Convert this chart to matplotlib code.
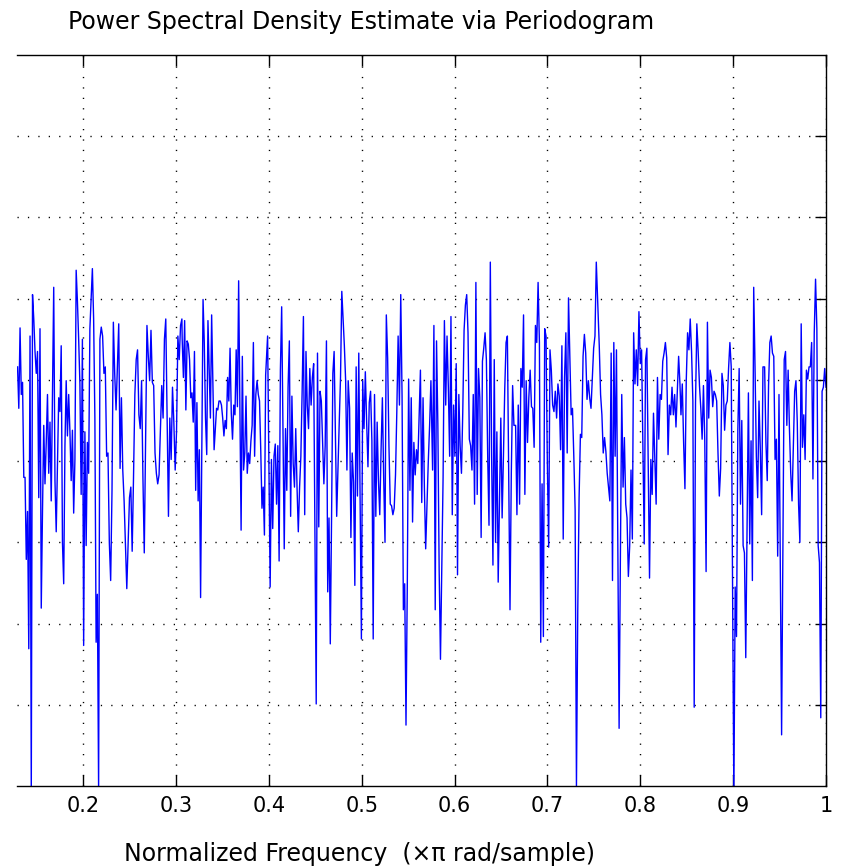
import numpy as np
import matplotlib
matplotlib.use("Agg")
import matplotlib.pyplot as plt

# periodogram estimate (dB/rad/sample) over the visible band, split in ten pieces
band_edges = [(0.1293, 0.2166), (0.2180, 0.3063), (0.3066, 0.3965), (0.3986, 0.4854),
              (0.4869, 0.5745), (0.5763, 0.6639), (0.6657, 0.7526), (0.7558, 0.8427),
              (0.8438, 0.9321), (0.9339, 1.0)]

psd_1 = [-38.4, -43.5, -33.6, -41.8, -40.3, -52.0, -52.0, -62.1, -56.2, -73.1, -34.6, -91.4, -29.5,
         -32.5, -36.5, -39.2, -36.5, -54.5, -33.7, -68.1, -56.2, -45.6, -52.8, -47.7, -41.8, -51.5,
         -45.2, -54.9, -42.2, -28.6, -52.4, -58.7, -50.7, -42.2, -43.9, -35.8, -60.0, -65.1, -48.1,
         -40.1, -46.9, -41.8, -46.4, -52.4, -46.2, -56.4, -49.8, -26.5, -30.3, -35.0, -40.5, -54.1,
         -35.0, -72.7, -46.4, -60.4, -47.7, -51.5, -33.7, -29.9, -26.3, -32.5, -44.7, -72.3, -66.4,
         -90.5]
psd_2 = [-35.0, -33.5, -34.6, -39.2, -38.4, -49.4, -49.0, -60.0, -64.7, -53.6, -32.9, -39.2, -43.7,
         -38.4, -33.1, -50.9, -42.2, -51.1, -54.9, -60.4, -65.7, -60.0, -54.5, -53.2, -61.1, -52.0,
         -41.8, -37.5, -36.3, -44.3, -46.0, -40.1, -52.0, -61.3, -47.7, -33.3, -37.1, -40.1, -33.9,
         -40.3, -40.7, -49.0, -51.5, -52.8, -51.7, -46.2, -40.7, -44.7, -35.0, -32.5, -44.7, -56.8,
         -44.7, -49.8, -40.9, -45.2, -51.1, -46.4, -34.6, -37.5, -33.3, -32.5]
psd_3 = [-35.0, -39.7, -32.7, -43.7, -35.2, -35.6, -37.5, -42.2, -41.6, -45.2, -36.5, -53.6, -42.8,
         -54.9, -48.6, -66.8, -48.6, -30.1, -35.4, -44.7, -49.2, -32.7, -38.6, -44.7, -32.0, -40.3,
         -48.6, -46.0, -43.5, -43.7, -42.6, -42.6, -43.1, -44.7, -46.9, -45.0, -46.0, -39.7, -42.6,
         -36.1, -44.1, -47.3, -43.1, -44.3, -36.3, -43.3, -27.8, -43.5, -58.5, -37.1, -51.1, -49.0,
         -42.0, -51.5, -49.0, -50.3, -47.5, -45.6, -35.4, -49.4, -41.8, -40.1, -41.8, -42.6, -48.6,
         -55.8, -53.2, -59.1, -39.4]
psd_4 = [-34.6, -50.3, -65.5, -49.8, -58.3, -49.4, -47.9, -55.3, -48.1, -62.3, -38.8, -31.0, -46.0,
         -60.8, -46.0, -53.6, -40.9, -35.2, -56.8, -42.0, -50.3, -53.2, -46.0, -53.2, -58.7, -53.2,
         -49.4, -41.4, -32.2, -56.6, -36.5, -43.1, -46.0, -38.6, -43.1, -39.7, -38.0, -59.1, -79.9,
         -36.7, -58.1, -41.4, -42.6, -47.7, -52.8, -48.1, -35.2, -66.1, -57.0, -72.5, -57.0, -39.2,
         -36.5, -47.1, -56.8, -50.9, -45.2, -39.7, -29.1, -32.5, -35.8, -40.1, -51.1, -40.1]
psd_5 = [-43.5, -59.4, -49.0, -52.6, -65.3, -38.4, -54.3, -36.7, -54.5, -71.9, -40.1, -46.0, -39.0,
         -45.2, -50.7, -42.8, -41.4, -47.5, -71.9, -41.8, -56.8, -45.2, -52.4, -56.6, -48.6, -42.2,
         -52.2, -60.0, -32.0, -37.3, -48.1, -55.3, -55.5, -56.6, -55.8, -51.7, -43.9, -34.6, -43.1,
         -29.5, -42.0, -68.3, -65.1, -82.5, -65.1, -39.9, -53.6, -42.2, -57.5, -47.7, -51.7, -48.6,
         -50.3, -44.7, -38.8, -55.1, -42.2, -53.2, -60.8, -55.3, -50.0, -45.6, -40.1]
psd_6 = [-51.1, -33.3, -68.3, -35.2, -45.4, -63.4, -74.4, -63.2, -52.0, -32.7, -43.1, -34.6, -40.9,
         -49.4, -32.2, -56.6, -43.1, -49.4, -38.0, -64.0, -41.8, -48.1, -51.5, -43.9, -33.9, -30.8,
         -29.5, -34.2, -47.3, -48.1, -51.1, -41.8, -55.3, -28.0, -54.1, -38.6, -42.2, -59.4, -37.7,
         -36.1, -34.2, -37.5, -49.4, -57.9, -25.5, -49.4, -62.8, -37.5, -60.0, -46.4, -64.9, -54.9,
         -44.7, -57.0, -49.4, -41.1, -35.4, -34.6, -51.5, -68.3, -51.5, -40.7, -45.6]
psd_7 = [-45.6, -56.6, -43.1, -55.3, -38.6, -40.9, -32.0, -54.1, -40.1, -47.7, -42.2, -38.8, -43.3,
         -43.5, -48.3, -33.3, -35.4, -28.0, -35.4, -72.3, -52.8, -71.6, -33.7, -34.6, -50.3, -60.6,
         -36.3, -38.8, -43.1, -43.9, -41.4, -44.7, -40.5, -42.0, -48.6, -35.8, -59.6, -39.7, -34.2,
         -49.0, -29.9, -37.3, -44.3, -43.5, -49.4, -56.0, -90.1, -68.3, -54.5, -46.7, -47.1, -37.1,
         -34.4, -36.7, -42.4, -40.1, -42.2, -43.5, -39.7, -36.1, -34.6, -25.5]
psd_8 = [-35.8, -41.8, -44.3, -49.0, -47.1, -48.8, -51.5, -53.2, -54.9, -36.7, -64.7, -35.4, -49.4,
         -36.3, -60.0, -82.9, -61.3, -41.8, -53.2, -47.1, -55.3, -57.0, -64.2, -60.4, -51.1, -59.6,
         -34.2, -40.5, -36.3, -40.7, -31.6, -38.0, -36.3, -48.3, -60.2, -37.5, -36.1, -50.5, -64.4,
         -49.8, -54.1, -44.1, -49.8, -55.3, -39.7, -47.3, -41.8, -42.4, -37.7, -36.7, -35.4, -37.3,
         -49.2, -43.1, -44.3, -40.9, -44.3, -41.8, -45.8, -41.4, -37.1, -40.5]
psd_9 = [-44.3, -40.5, -47.7, -53.4, -40.1, -34.2, -36.3, -32.5, -36.5, -42.6, -80.3, -42.8, -33.1,
         -36.5, -40.7, -43.5, -47.3, -40.7, -47.5, -63.6, -32.9, -44.7, -38.8, -39.7, -43.3, -41.4,
         -41.8, -42.6, -49.0, -54.3, -50.9, -39.2, -40.7, -46.2, -43.1, -42.6, -38.6, -35.4, -38.4,
         -65.5, -91.4, -65.5, -71.6, -46.2, -38.6, -55.3, -45.0, -60.4, -61.3, -74.2, -57.9, -41.6,
         -60.2, -47.5, -64.7, -28.6, -38.4, -49.4, -54.5, -42.6, -48.6, -56.6, -38.4]
psd_10 = [-38.4, -47.7, -52.4, -40.7, -35.4, -34.6, -36.7, -37.1, -49.8, -47.3, -61.7, -41.8, -62.5,
          -83.7, -61.3, -37.5, -36.5, -45.6, -38.8, -46.0, -51.5, -54.9, -48.1, -41.4, -40.1, -45.2,
          -55.3, -60.0, -33.1, -48.3, -44.3, -49.8, -38.8, -39.9, -38.4, -38.4, -35.4, -52.2, -34.2,
          -27.6, -33.7, -60.4, -62.5, -81.6, -41.4, -40.9, -38.6, -40.9]

bands = [psd_1, psd_2, psd_3, psd_4, psd_5, psd_6, psd_7, psd_8, psd_9, psd_10]
freq = np.concatenate([np.linspace(a, b, len(p)) for (a, b), p in zip(band_edges, bands)])
psd_db = np.concatenate(bands)

xticks = [0.2, 0.3, 0.4, 0.5, 0.6, 0.7, 0.8, 0.9, 1.0]
xticklabels = ['0.2', '0.3', '0.4', '0.5', '0.6', '0.7', '0.8', '0.9', '1']
yticks = [-80, -70, -60, -50, -40, -30, -20, -10]

plt.rcParams['font.family'] = ['DejaVu Sans']
plt.rcParams['lines.scale_dashes'] = False

fig = plt.figure(figsize=(8.42, 8.68), dpi=100)
W, H = 842.0, 868.0
ax = fig.add_axes([17 / W, 1 - 786 / H, (826 - 17) / W, (786 - 55) / H])

ax.plot(freq, psd_db, color='#0000ff', lw=1.0)

ax.set_xlim(0.1287, 1.0)
ax.set_ylim(-90, 0)
ax.set_xticks(xticks)
ax.set_xticklabels(xticklabels, fontsize=15)
ax.set_yticks(yticks)
ax.set_yticklabels([])

ax.tick_params(axis='both', direction='in', length=8, width=1.0, color='black',
               top=True, right=True, left=False, labelleft=False, pad=7)
ax.grid(True, color='black', lw=1.0, linestyle=(0, (0.9, 6.6)))

ax.spines['left'].set_visible(False)
for s in ['top', 'bottom', 'right']:
    ax.spines[s].set_linewidth(1.0)

ax.set_title('Power Spectral Density Estimate via Periodogram', fontsize=17,
             x=(361 - 17) / 809, pad=19)
ax.set_xlabel('Normalized Frequency  (\u00d7\u03c0 rad/sample)', fontsize=17,
              x=(360 - 17) / 809, labelpad=19)

fig.savefig('out.png', dpi=100)
